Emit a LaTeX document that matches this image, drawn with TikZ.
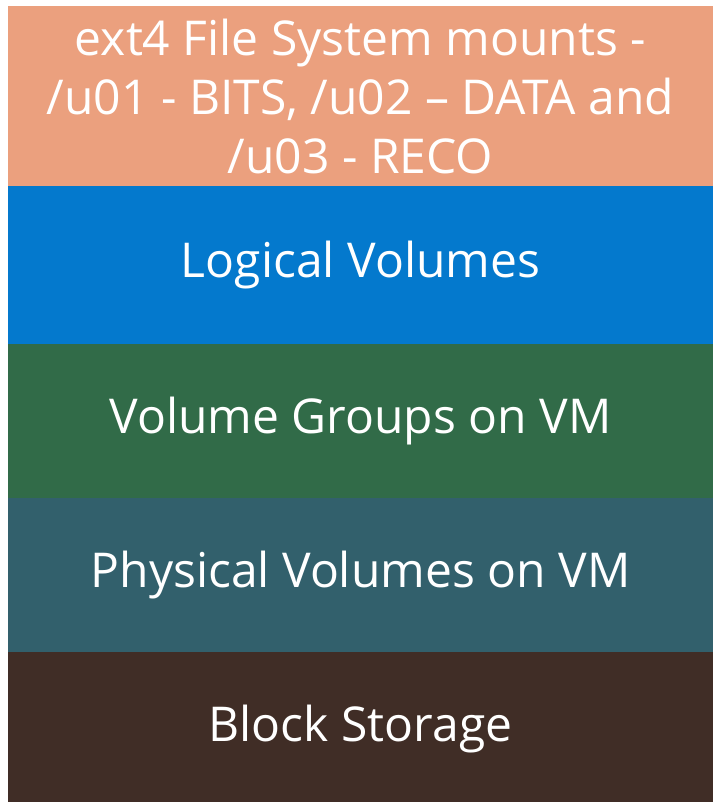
\documentclass[tikz,border=0pt]{standalone}
\usepackage{fontspec}
\setmainfont{Open Sans}
\usetikzlibrary{positioning}

\definecolor{mountorange}{HTML}{EBA07E}
\definecolor{lvblue}{HTML}{0479CD}
\definecolor{vggreen}{HTML}{316B48}
\definecolor{pvteal}{HTML}{32606C}
\definecolor{blockbrown}{HTML}{402D26}

\tikzset{
  layer/.style={minimum width=705pt, inner sep=0pt, outer sep=0pt, text=white,
    font=\fontsize{48}{59}\selectfont, align=center},
}

\begin{document}
\begin{tikzpicture}[x=1pt, y=1pt]
  \useasboundingbox (0, 0) rectangle (713, -802);

  \node [layer, fill = mountorange, minimum height = 181pt, anchor = north west] (mounts) at (8, -6)
    {ext4 File System mounts -\\/u01 - BITS, /u02 – DATA and\\/u03 - RECO};
  \node [layer, fill = lvblue, minimum height = 158pt, below = -0.5pt of mounts] (lv) {Logical Volumes};
  \node [layer, fill = vggreen, minimum height = 154pt, below = -0.5pt of lv] (vg) {Volume Groups on VM};
  \node [layer, fill = pvteal, minimum height = 155pt, below = -0.5pt of vg] (pv) {Physical Volumes on VM};
  \node [layer, fill = blockbrown, minimum height = 155pt, below = -0.5pt of pv] (block) {Block Storage};
\end{tikzpicture}
\end{document}
